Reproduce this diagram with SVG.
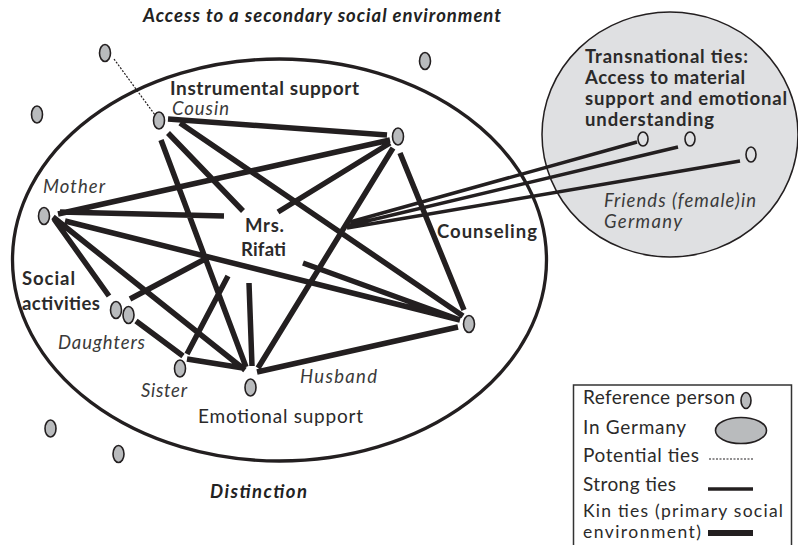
<svg xmlns="http://www.w3.org/2000/svg" width="798" height="545" viewBox="0 0 798 545">
<style>
text{font-family:Lato,"Open Sans","Liberation Sans",sans-serif;fill:#2b2a2a;font-size:18.5px}
.b{font-weight:700}
.i{font-style:italic;fill:#3a3a3a}
.bi{font-weight:700;font-style:italic;fill:#222}
.l{font-size:19px}
.m{font-size:17.500px}
.n{fill:#b9bbbd;stroke:#231f20;stroke-width:1.6}
.f{fill:#dfe0e2;stroke:#231f20;stroke-width:1.6}
.k{stroke:#231f20;stroke-width:5.500;fill:none}
.s{stroke:#231f20;stroke-width:3.500;fill:none}
.d{stroke:#231f20;stroke-width:1.2;stroke-dasharray:2 1.5;fill:none}
</style>
<g id="germany"><ellipse cx="670" cy="134.5" rx="128" ry="122.5" fill="#dfe0e2" stroke="#231f20" stroke-width="1.5"/>
<text class="b" x="585" y="63" textLength="163">Transnational ties:</text>
<text class="b" x="585" y="84" textLength="160">Access to material</text>
<text class="b" x="585" y="105" textLength="202">support and emotional</text>
<text class="b" x="585" y="126" textLength="129">understanding</text>
<text class="i" x="604" y="207" textLength="152">Friends (female)in</text>
<text class="i" x="604" y="228" textLength="78">Germany</text></g>
<g id="environment"><ellipse cx="279.500" cy="260" rx="267" ry="201" fill="none" stroke="#231f20" stroke-width="3.300"/></g>
<g id="connectors">
<path class="d" d="M114 59L155 115"/>
<path class="k" d="M168 119L387 135M58 214L390 140M278 212L390 143M168 133L243 211M161 140L246 367M180 123L463 316M60 212L224 216M65 221L460 320M53 217L245 370M54 219L109 296M130 299L207 258M136 321L183 356M187 354L228 276M187 359L243 368M249 283L252 366M258 368L393 148M257 372L458 327M400 153L464 310M303 263L460 320"/>
<path class="s" d="M350 222L637 142M346 226L678 147M347 228L740 161"/>
</g>
<g id="n-top"><ellipse class="n" cx="105" cy="53" rx="5.500" ry="8.500"/></g>
<g id="n-left"><ellipse class="n" cx="37" cy="114.500" rx="5.500" ry="8.500"/></g>
<g id="n-cousin"><ellipse class="n" cx="159" cy="120.500" rx="5.500" ry="8.500"/><text class="i" x="172" y="115" textLength="57">Cousin</text></g>
<g id="n-counsel"><ellipse class="n" cx="398" cy="136.500" rx="5.500" ry="8.500"/></g>
<g id="n-topright"><ellipse class="n" cx="425" cy="61" rx="5.500" ry="8.500"/></g>
<g id="n-mother"><ellipse class="n" cx="44" cy="216" rx="5.500" ry="8.500"/><text class="i" x="43" y="193" textLength="62">Mother</text></g>
<g id="n-daughter1"><ellipse class="n" cx="116" cy="310" rx="5.500" ry="8.500"/></g>
<g id="n-daughter2"><ellipse class="n" cx="128.500" cy="315" rx="5.500" ry="8.500"/><text class="i" x="58" y="349" textLength="87">Daughters</text></g>
<g id="n-sister"><ellipse class="n" cx="180" cy="368.500" rx="5.500" ry="8.500"/><text class="i" x="141" y="397" textLength="46">Sister</text></g>
<g id="n-husband"><ellipse class="n" cx="250.500" cy="387.500" rx="5.500" ry="8.500"/><text class="i" x="300" y="383" textLength="77">Husband</text></g>
<g id="n-right"><ellipse class="n" cx="469" cy="324" rx="5.500" ry="8.500"/></g>
<g id="n-bottom1"><ellipse class="n" cx="50.500" cy="428.500" rx="5.500" ry="8.500"/></g>
<g id="n-bottom2"><ellipse class="n" cx="118.500" cy="454" rx="5.500" ry="8.500"/></g>
<g id="n-friend1"><ellipse class="f" cx="643" cy="139" rx="5" ry="7"/></g>
<g id="n-friend2"><ellipse class="f" cx="690" cy="139" rx="5" ry="7"/></g>
<g id="n-friend3"><ellipse class="f" cx="751" cy="154.500" rx="5" ry="7.500"/></g>
<g id="labels">
<text class="bi" x="143" y="22" textLength="358">Access to a secondary social environment</text>
<text class="b l" x="170" y="95" textLength="189">Instrumental support</text>
<text class="b" x="245" y="232" textLength="39">Mrs.</text>
<text class="b" x="241" y="256" textLength="45">Rifati</text>
<text class="b" x="22" y="285" textLength="53">Social</text>
<text class="b" x="22" y="310" textLength="78">activities</text>
<text class="l" x="198" y="423" textLength="165">Emotional support</text>
<text class="bi" x="210" y="498" textLength="97">Distinction</text>
<text class="b" x="437" y="238" textLength="100">Counseling</text>
</g>
<g id="legend">
<path d="M573.500 545V385H791.500V545" fill="none" stroke="#333" stroke-width="1.500"/>
<text class="l" x="583" y="404" textLength="152">Reference person</text>
<text class="l" x="583" y="434" textLength="103">In Germany</text>
<text class="l" x="583" y="462" textLength="116">Potential ties</text>
<text class="l" x="583" y="491" textLength="93">Strong ties</text>
<text class="m" x="583" y="517" textLength="200">Kin ties (primary social</text>
<text class="m" x="583" y="538" textLength="118">environment)</text>
<ellipse class="n" cx="746" cy="400.500" rx="5" ry="8"/>
<ellipse class="n" cx="741" cy="430.500" rx="25.500" ry="13"/>
<path class="d" d="M709 459H753"/>
<path class="s" d="M708 489H753"/>
<path class="k" d="M708 533H753" style="stroke-width:6"/>
</g>
</svg>
